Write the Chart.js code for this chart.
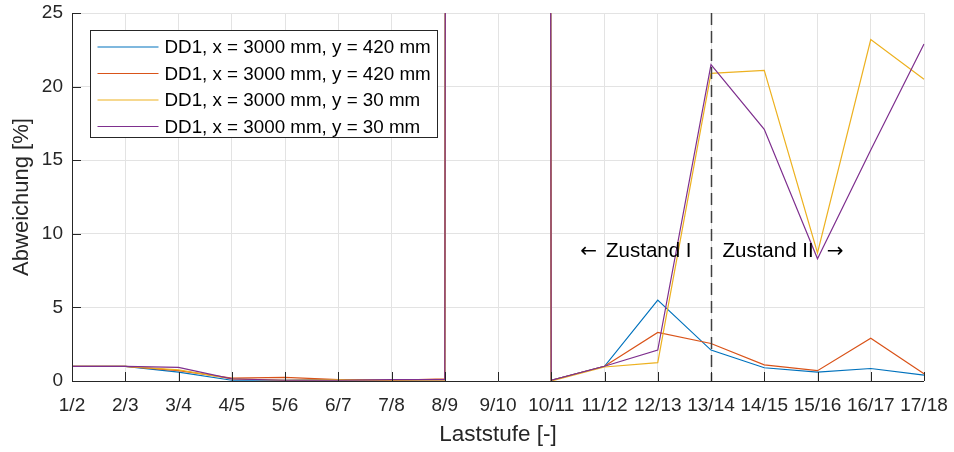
<!DOCTYPE html>
<html>
<head>
<meta charset="utf-8">
<script src="https://cdn.jsdelivr.net/npm/chart.js@4"></script>
<style>
  html, body { margin: 0; padding: 0; background: #fff; }
  #wrap { width: 954px; height: 452px; }
</style>
</head>
<body>
<div id="wrap"><canvas id="c"></canvas></div>
<script>
const stufen = ['1/2','2/3','3/4','4/5','5/6','6/7','7/8','8/9','9/10','10/11','11/12','12/13','13/14','14/15','15/16','16/17','17/18'];

// 9/10 is far off scale, the lines shoot out of the top
const dd1_x3000_y420_a = [1.0, 1.0, 0.6, 0.05, 0.05, 0.1, 0.05, 0.1, 10000, 0.05, 1.0, 5.5, 2.1, 0.9, 0.6, 0.85, 0.4];
const dd1_x3000_y420_b = [1.0, 1.0, 0.7, 0.2, 0.25, 0.1, 0.05, 0.15, 10000, 0.05, 1.0, 3.3, 2.55, 1.1, 0.7, 2.9, 0.5];
const dd1_x3000_y30_a  = [1.0, 1.0, 0.75, 0.15, 0.05, 0.1, 0.05, 0.05, 10000, 0.0, 0.95, 1.25, 20.9, 21.1, 8.7, 23.2, 20.5];
const dd1_x3000_y30_b  = [1.0, 1.0, 0.93, 0.15, 0.05, 0.05, 0.1, 0.1, 10000, 0.05, 1.0, 2.1, 21.5, 17.1, 8.3, 15.7, 22.9];

const labels = ['DD1, x = 3000 mm, y = 420 mm','DD1, x = 3000 mm, y = 420 mm','DD1, x = 3000 mm, y = 30 mm','DD1, x = 3000 mm, y = 30 mm'];
const colors = ['#0072BD','#D95319','#EDB120','#7E2F8E'];

const grenzeIndex = 12;   // 13/14
const textHoehe = 8.8;

const FONT = '"Liberation Sans", sans-serif';
const TXT = '#262626';

const extras = {
  id: 'extras',
  afterDatasetsDraw(chart) {
    const {ctx, chartArea: a, scales: {x, y}} = chart;
    ctx.save();
    // Zustand boundary
    const gx = Math.round(x.getPixelForValue(grenzeIndex)) + 0.5;
    ctx.strokeStyle = '#404040';
    ctx.lineWidth = 1.5;
    ctx.setLineDash([12, 6]);
    ctx.beginPath();
    ctx.moveTo(gx, a.top);
    ctx.lineTo(gx, a.bottom);
    ctx.stroke();
    ctx.setLineDash([]);

    ctx.fillStyle = '#000';
    ctx.textBaseline = 'middle';
    const ty = y.getPixelForValue(textHoehe);
    ctx.font = '20.5px ' + FONT;
    const w1 = ctx.measureText('Zustand I').width;
    const w2 = ctx.measureText('Zustand II').width;
    ctx.textAlign = 'right';
    ctx.fillText('Zustand I', gx - 20, ty);
    ctx.textAlign = 'left';
    ctx.fillText('Zustand II', gx + 11, ty);
    ctx.font = '20px "DejaVu Sans"';
    ctx.textAlign = 'right';
    ctx.fillText('\u2190', gx - 20 - w1 - 9, ty);
    ctx.textAlign = 'left';
    ctx.fillText('\u2192', gx + 11 + w2 + 13, ty);

    // axis lines with inward ticks
    ctx.strokeStyle = TXT;
    ctx.lineWidth = 1;
    ctx.beginPath();
    ctx.moveTo(a.left + 0.5, a.top);
    ctx.lineTo(a.left + 0.5, a.bottom + 0.5);
    ctx.lineTo(a.right, a.bottom + 0.5);
    y.ticks.forEach((t, i) => {
      const py = Math.round(y.getPixelForTick(i)) + 0.5;
      ctx.moveTo(a.left, py);
      ctx.lineTo(a.left + 9, py);
    });
    x.ticks.forEach((t, i) => {
      const px = Math.round(x.getPixelForTick(i)) + 0.5;
      ctx.moveTo(px, a.bottom);
      ctx.lineTo(px, a.bottom - 9);
    });
    ctx.stroke();

    // legend box
    const lx = a.left + 18.5, ly = a.top + 17.5, lw = 347, lh = 107;
    ctx.fillStyle = '#fff';
    ctx.fillRect(lx, ly, lw, lh);
    ctx.strokeStyle = TXT;
    ctx.strokeRect(lx, ly, lw, lh);
    ctx.font = '18.8px ' + FONT;
    ctx.textAlign = 'left';
    chart.data.datasets.forEach((ds, i) => {
      const ry = ly + 16.5 + i * 26.5;
      ctx.strokeStyle = ds.borderColor;
      ctx.lineWidth = 1.2;
      ctx.beginPath();
      ctx.moveTo(lx + 7, ry);
      ctx.lineTo(lx + 68, ry);
      ctx.stroke();
      ctx.fillStyle = '#000';
      ctx.fillText(ds.label, lx + 74, ry + 1);
    });
    ctx.restore();
  }
};

new Chart(document.getElementById('c'), {
  type: 'line',
  data: {
    labels: stufen,
    datasets: [dd1_x3000_y420_a, dd1_x3000_y420_b, dd1_x3000_y30_a, dd1_x3000_y30_b].map((d, i) => ({
      label: labels[i],
      data: d,
      order: -i,
      borderColor: colors[i],
      backgroundColor: colors[i],
      borderWidth: 1.2,
      pointRadius: 0,
      tension: 0,
      fill: false
    }))
  },
  options: {
    responsive: true,
    maintainAspectRatio: false,
    animation: false,
    layout: { padding: { top: 13, right: 30, left: 0, bottom: 0 } },
    plugins: { legend: { display: false }, tooltip: { enabled: false } },
    scales: {
      x: {
        offset: false,
        grid: { color: '#e3e3e3', drawTicks: false },
        border: { display: false },
        ticks: { color: TXT, font: { family: FONT, size: 19 }, padding: 13, maxRotation: 0, autoSkip: false },
        title: { display: true, text: 'Laststufe [-]', color: TXT, font: { family: FONT, size: 22.5 }, padding: { top: 0 } },
        afterFit(s) { s.height = 71; s.paddingLeft = 0; s.paddingRight = 0; }
      },
      y: {
        min: 0, max: 25,
        grid: { color: '#e3e3e3', drawTicks: false },
        border: { display: false },
        ticks: { stepSize: 5, color: TXT, font: { family: FONT, size: 19 }, padding: 9 },
        title: { display: true, text: 'Abweichung [%]', color: TXT, font: { family: FONT, size: 22 }, padding: { top: 9, bottom: 4 } },
        afterFit(s) { s.width = 72; s.paddingTop = 0; s.paddingBottom = 0; }
      }
    }
  },
  plugins: [extras]
});
</script>
</body>
</html>
